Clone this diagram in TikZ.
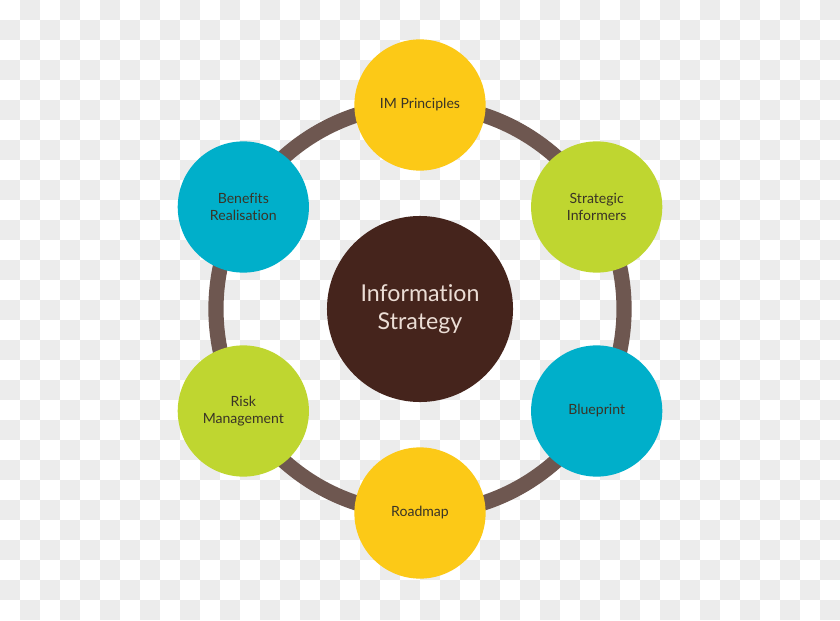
\documentclass[tikz,border=0pt]{standalone}
\usepackage{fontspec}
\setmainfont{Lato}[Ligatures=NoCommon]
\usetikzlibrary{positioning,calc}

\definecolor{hubbrown}{HTML}{45241C}
\definecolor{ringgray}{HTML}{6E5750}
\definecolor{sunyellow}{HTML}{FCC917}
\definecolor{limegreen}{HTML}{BFD630}
\definecolor{tealblue}{HTML}{00AFCA}
\definecolor{checkgray}{HTML}{ECECEC}
\definecolor{labeltext}{HTML}{3A3426}
\definecolor{hubtext}{HTML}{EBDDD5}

\begin{document}
\begin{tikzpicture}[
    x=0.025cm, y=0.025cm,
    hub/.style={circle, fill=hubbrown, minimum size=4.65cm, inner sep=0pt, align=center, text=hubtext, font=\fontsize{16.5}{19.5}\selectfont},
    petal/.style={circle, minimum size=3.28cm, inner sep=0pt, align=center, text=labeltext, font=\fontsize{10}{12.5}\selectfont},
    ring/.style={draw=ringgray, line width=0.38cm}
]
    % transparent-look background
    \useasboundingbox (0,0) rectangle (840,620);
    \fill[white] (0,0) rectangle (840,620);
    \foreach \i in {0,...,41}{
        \foreach \j in {0,...,30}{
            \ifodd\numexpr\i+\j\relax
                \fill[checkgray] (20*\i,600-20*\j) rectangle ++(20,20);
            \fi
        }
    }

    \node[hub] (hub) at (420,311) {Information\\Strategy};
    \draw[ring] (hub) circle[radius=5.1cm];

    \node[petal, fill=sunyellow] (principles) at ($(hub)+(90:204)$) {IM Principles};
    \node[petal, fill=limegreen] (informers) at ($(hub)+(30:204)$) {Strategic\\Informers};
    \node[petal, fill=tealblue] (blueprint) at ($(hub)+(-30:204)$) {Blueprint};
    \node[petal, fill=sunyellow] (roadmap) at ($(hub)+(-90:204)$) {Roadmap};
    \node[petal, fill=limegreen] (risk) at ($(hub)+(210:204)$) {Risk\\Management};
    \node[petal, fill=tealblue] (benefits) at ($(hub)+(150:204)$) {Benefits\\Realisation};
\end{tikzpicture}
\end{document}
